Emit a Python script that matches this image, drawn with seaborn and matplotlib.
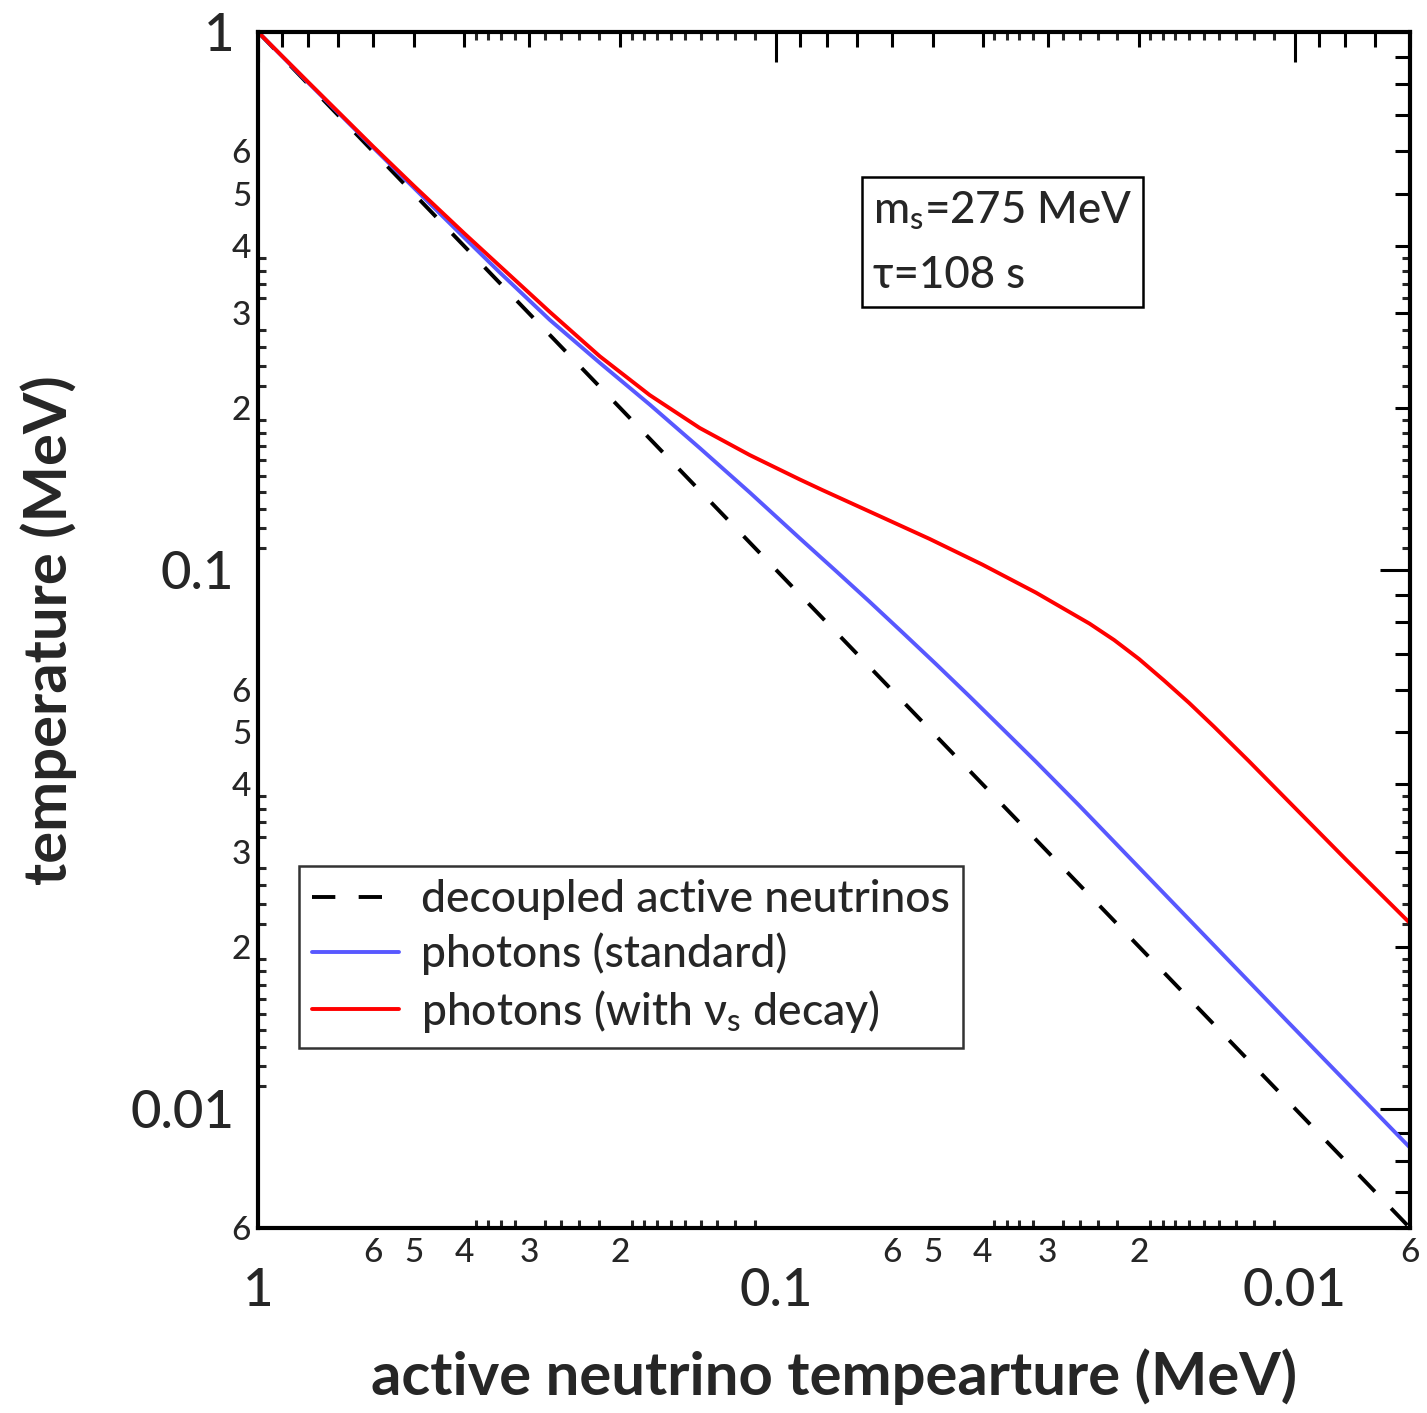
import numpy as np
import pandas as pd
import matplotlib
matplotlib.use('Agg')
import matplotlib.pyplot as plt
import matplotlib.ticker as mticker
import seaborn as sns

# values (MeV)
dashed_x = [1.0, 0.006]
dashed_y = [1.0, 0.006]

blue_x = [1.0, 0.8, 0.6, 0.5, 0.4, 0.3417, 0.2737, 0.2192, 0.1756, 0.1406, 0.1126, 0.0902,
          0.0767, 0.0662, 0.0571, 0.0492, 0.0425, 0.0366, 0.0316, 0.0261, 0.0104, 0.006]
blue_y = [1.0, 0.8051, 0.6104, 0.5130, 0.4148, 0.3575, 0.2919, 0.2429, 0.2032, 0.1687, 0.1395, 0.1147,
          0.0996, 0.0875, 0.0766, 0.0669, 0.0584, 0.0507, 0.0441, 0.0366, 0.0146, 0.00846]

red_x = [1.0, 0.8, 0.6, 0.5, 0.4, 0.3417, 0.2737, 0.2192, 0.1756, 0.1406, 0.1126,
         0.0902, 0.0815, 0.0642, 0.0507, 0.0401, 0.0316, 0.0249, 0.02232, 0.01998, 0.01788,
         0.0160, 0.01432, 0.01227, 0.01074, 0.00797, 0.006]
red_y = [1.0, 0.8069, 0.6130, 0.5174, 0.4225, 0.3675, 0.3020, 0.2498, 0.2116, 0.1838, 0.1637,
         0.1475, 0.1409, 0.1269, 0.1144, 0.1025, 0.0909, 0.0796, 0.0742, 0.0684, 0.0624,
         0.0567, 0.0512, 0.0442, 0.0388, 0.0290, 0.0221]

labels = ['decoupled active neutrinos', 'photons (standard)',
          'photons (with \u03bd$_\\mathregular{s}$ decay)']
major_ticks = [1.0, 0.1, 0.01]
major_labels = ['1', '0.1', '0.01']

sns.set_style('white')
plt.rcParams['font.family'] = ['Lato', 'DejaVu Sans']
plt.rcParams['font.weight'] = 'medium'
plt.rcParams['mathtext.default'] = 'regular'

fig = plt.figure(figsize=(14.27, 14.13), dpi=100)
ax = fig.add_axes([258 / 1427, 1 - 1228 / 1413, 1152 / 1427, 1196 / 1413])

lw = 2.8
sns.lineplot(x=dashed_x, y=dashed_y, ax=ax, color='black', lw=lw,
             linestyle=(0, (6, 6)), label=labels[0], sort=False)
sns.lineplot(x=blue_x, y=blue_y, ax=ax, color='#5858ff', lw=lw, label=labels[1], sort=False)
sns.lineplot(x=red_x, y=red_y, ax=ax, color='#ff0000', lw=lw, label=labels[2], sort=False)

ax.set_xscale('log')
ax.set_yscale('log')
ax.set_xlim(1.0, 0.006)
ax.set_ylim(0.006, 1.0)

# tick levels: major (1, 0.1, 0.01), medium (2..9), small (in-between)
medium = [k * d / 10 for d in major_ticks for k in range(9, 1, -1)]
small = [k * d / 100 for d in major_ticks
         for k in [38, 36, 34, 32, 28, 26, 24, 22] + list(range(19, 10, -1))]


def minor_fmt(v, pos):
    m = v / 10 ** np.floor(np.log10(v) + 1e-9)
    digit = int(round(m))
    return str(digit) if 2 <= digit <= 6 else ''


for axis in (ax.xaxis, ax.yaxis):
    axis.set_major_locator(mticker.FixedLocator(major_ticks))
    axis.set_major_formatter(mticker.FixedFormatter(major_labels))
    axis.set_minor_locator(mticker.FixedLocator(medium))
    axis.set_minor_formatter(mticker.FuncFormatter(minor_fmt))

ax.tick_params(which='both', direction='in', top=True, right=True, width=2.2, color='black')
ax.tick_params(which='major', length=21.5, labelsize=38)
ax.tick_params(which='minor', length=11, labelsize=24)
ax.tick_params(axis='x', which='major', pad=29)
ax.tick_params(axis='x', which='minor', pad=7)
ax.tick_params(axis='y', which='major', pad=17)
ax.tick_params(axis='y', which='minor', pad=5)

for side in ['bottom', 'top']:
    sec = ax.secondary_xaxis(side)
    sec.set_xticks(small)
    sec.xaxis.set_minor_locator(mticker.NullLocator())
    sec.tick_params(axis='x', which='both', direction='in', length=6, width=2.2,
                    labelbottom=False, labeltop=False)
    sec.spines[side].set_visible(False)
for side in ['left', 'right']:
    sec = ax.secondary_yaxis(side)
    sec.set_yticks(small)
    sec.yaxis.set_minor_locator(mticker.NullLocator())
    sec.tick_params(axis='y', which='both', direction='in', length=6, width=2.2,
                    labelleft=False, labelright=False)
    sec.spines[side].set_visible(False)

for s in ax.spines.values():
    s.set_linewidth(3)
    s.set_color('black')

ax.set_xlabel('active neutrino tempearture (MeV)', fontsize=43, fontweight='bold')
ax.set_ylabel('temperature (MeV)', fontsize=43, fontweight='bold')
ax.xaxis.set_label_coords(0.5, -0.101)
ax.yaxis.set_label_coords(-0.157, 0.5)

leg = ax.legend(loc='upper left', bbox_to_anchor=(0.0356, 0.3027), borderaxespad=0,
                fontsize=32, frameon=True, fancybox=False, edgecolor='black',
                handlelength=1.95, handletextpad=0.5, labelspacing=0.28, borderpad=0.3)
leg.get_frame().set_linewidth(1.8)

ax.text(0.534, 0.8687, 'm$_\\mathregular{s}$=275 MeV\n\u03c4=108 s', transform=ax.transAxes,
        fontsize=31.5, va='top', ha='left', linespacing=1.7,
        bbox=dict(boxstyle='square,pad=0.25', facecolor='white', edgecolor='black', linewidth=1.8))

fig.savefig('out.png', dpi=100)
